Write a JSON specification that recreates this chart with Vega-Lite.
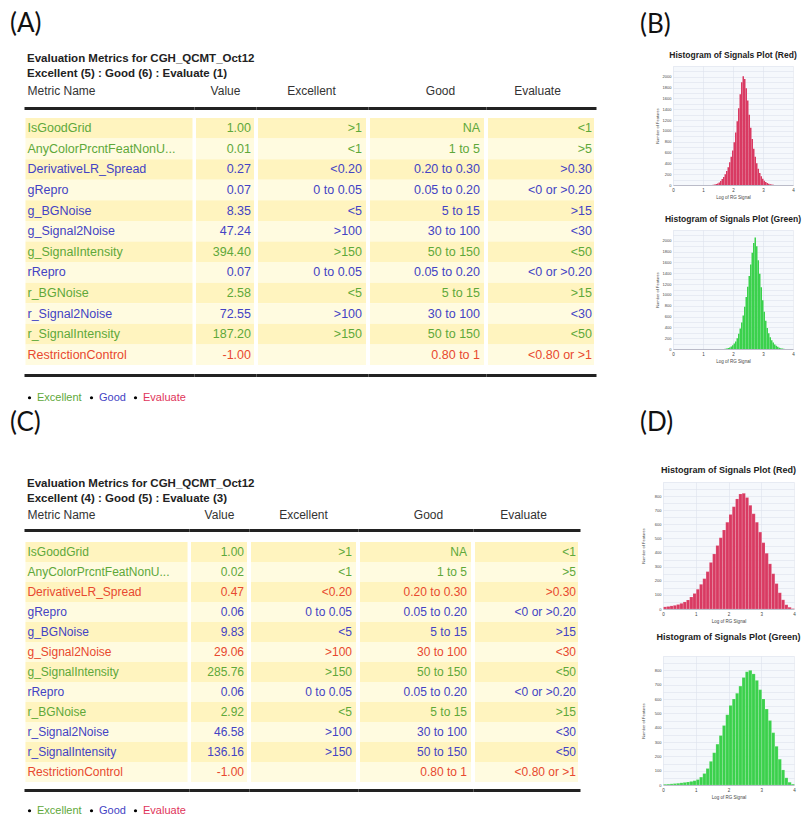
{
  "$schema": "https://vega.github.io/schema/vega-lite/v6.json",
  "background": "white",
  "padding": {"left": 10, "top": 6, "right": 0, "bottom": 0},
  "config": {
    "view": {"stroke": null},
    "font": "Liberation Sans"
  },
  "datasets": {
    "legendItems": [{"s": "Excellent"}, {"s": "Good"}, {"s": "Evaluate"}],
    "tableA": [
      {"row": 1, "name": "IsGoodGrid", "value": "1.00", "exc": ">1", "good": "NA", "eval": "<1", "status": "Excellent"},
      {"row": 2, "name": "AnyColorPrcntFeatNonU...", "value": "0.01", "exc": "<1", "good": "1 to 5", "eval": ">5", "status": "Excellent"},
      {"row": 3, "name": "DerivativeLR_Spread", "value": "0.27", "exc": "<0.20", "good": "0.20 to 0.30", "eval": ">0.30", "status": "Good"},
      {"row": 4, "name": "gRepro", "value": "0.07", "exc": "0 to 0.05", "good": "0.05 to 0.20", "eval": "<0 or >0.20", "status": "Good"},
      {"row": 5, "name": "g_BGNoise", "value": "8.35", "exc": "<5", "good": "5 to 15", "eval": ">15", "status": "Good"},
      {"row": 6, "name": "g_Signal2Noise", "value": "47.24", "exc": ">100", "good": "30 to 100", "eval": "<30", "status": "Good"},
      {"row": 7, "name": "g_SignalIntensity", "value": "394.40", "exc": ">150", "good": "50 to 150", "eval": "<50", "status": "Excellent"},
      {"row": 8, "name": "rRepro", "value": "0.07", "exc": "0 to 0.05", "good": "0.05 to 0.20", "eval": "<0 or >0.20", "status": "Good"},
      {"row": 9, "name": "r_BGNoise", "value": "2.58", "exc": "<5", "good": "5 to 15", "eval": ">15", "status": "Excellent"},
      {"row": 10, "name": "r_Signal2Noise", "value": "72.55", "exc": ">100", "good": "30 to 100", "eval": "<30", "status": "Good"},
      {"row": 11, "name": "r_SignalIntensity", "value": "187.20", "exc": ">150", "good": "50 to 150", "eval": "<50", "status": "Excellent"},
      {"row": 12, "name": "RestrictionControl", "value": "-1.00", "exc": "", "good": "0.80 to 1", "eval": "<0.80 or >1", "status": "Evaluate"}
    ],
    "tableC": [
      {"row": 1, "name": "IsGoodGrid", "value": "1.00", "exc": ">1", "good": "NA", "eval": "<1", "status": "Excellent"},
      {"row": 2, "name": "AnyColorPrcntFeatNonU...", "value": "0.02", "exc": "<1", "good": "1 to 5", "eval": ">5", "status": "Excellent"},
      {"row": 3, "name": "DerivativeLR_Spread", "value": "0.47", "exc": "<0.20", "good": "0.20 to 0.30", "eval": ">0.30", "status": "Evaluate"},
      {"row": 4, "name": "gRepro", "value": "0.06", "exc": "0 to 0.05", "good": "0.05 to 0.20", "eval": "<0 or >0.20", "status": "Good"},
      {"row": 5, "name": "g_BGNoise", "value": "9.83", "exc": "<5", "good": "5 to 15", "eval": ">15", "status": "Good"},
      {"row": 6, "name": "g_Signal2Noise", "value": "29.06", "exc": ">100", "good": "30 to 100", "eval": "<30", "status": "Evaluate"},
      {"row": 7, "name": "g_SignalIntensity", "value": "285.76", "exc": ">150", "good": "50 to 150", "eval": "<50", "status": "Excellent"},
      {"row": 8, "name": "rRepro", "value": "0.06", "exc": "0 to 0.05", "good": "0.05 to 0.20", "eval": "<0 or >0.20", "status": "Good"},
      {"row": 9, "name": "r_BGNoise", "value": "2.92", "exc": "<5", "good": "5 to 15", "eval": ">15", "status": "Excellent"},
      {"row": 10, "name": "r_Signal2Noise", "value": "46.58", "exc": ">100", "good": "30 to 100", "eval": "<30", "status": "Good"},
      {"row": 11, "name": "r_SignalIntensity", "value": "136.16", "exc": ">150", "good": "50 to 150", "eval": "<50", "status": "Good"},
      {"row": 12, "name": "RestrictionControl", "value": "-1.00", "exc": "", "good": "0.80 to 1", "eval": "<0.80 or >1", "status": "Evaluate"}
    ],
    "hBR": [
      {"b0": 1.30, "b1": 1.35, "n": 5}, {"b0": 1.35, "b1": 1.40, "n": 10}, {"b0": 1.40, "b1": 1.45, "n": 18}, {"b0": 1.45, "b1": 1.50, "n": 30},
      {"b0": 1.50, "b1": 1.55, "n": 48}, {"b0": 1.55, "b1": 1.60, "n": 75}, {"b0": 1.60, "b1": 1.65, "n": 110}, {"b0": 1.65, "b1": 1.70, "n": 150},
      {"b0": 1.70, "b1": 1.75, "n": 200}, {"b0": 1.75, "b1": 1.80, "n": 260}, {"b0": 1.80, "b1": 1.85, "n": 330}, {"b0": 1.85, "b1": 1.90, "n": 420},
      {"b0": 1.90, "b1": 1.95, "n": 520}, {"b0": 1.95, "b1": 2.00, "n": 640}, {"b0": 2.00, "b1": 2.05, "n": 790}, {"b0": 2.05, "b1": 2.10, "n": 970},
      {"b0": 2.10, "b1": 2.15, "n": 1180}, {"b0": 2.15, "b1": 2.20, "n": 1420}, {"b0": 2.20, "b1": 2.25, "n": 1680}, {"b0": 2.25, "b1": 2.30, "n": 1900},
      {"b0": 2.30, "b1": 2.35, "n": 2010}, {"b0": 2.35, "b1": 2.40, "n": 1960}, {"b0": 2.40, "b1": 2.45, "n": 1790}, {"b0": 2.45, "b1": 2.50, "n": 1560},
      {"b0": 2.50, "b1": 2.55, "n": 1300}, {"b0": 2.55, "b1": 2.60, "n": 1060}, {"b0": 2.60, "b1": 2.65, "n": 850}, {"b0": 2.65, "b1": 2.70, "n": 670},
      {"b0": 2.70, "b1": 2.75, "n": 520}, {"b0": 2.75, "b1": 2.80, "n": 400}, {"b0": 2.80, "b1": 2.85, "n": 300}, {"b0": 2.85, "b1": 2.90, "n": 220},
      {"b0": 2.90, "b1": 2.95, "n": 160}, {"b0": 2.95, "b1": 3.00, "n": 115}, {"b0": 3.00, "b1": 3.05, "n": 80}, {"b0": 3.05, "b1": 3.10, "n": 55},
      {"b0": 3.10, "b1": 3.15, "n": 38}, {"b0": 3.15, "b1": 3.20, "n": 25}, {"b0": 3.20, "b1": 3.25, "n": 15}, {"b0": 3.25, "b1": 3.30, "n": 8},
      {"b0": 3.30, "b1": 3.35, "n": 4}
    ],
    "hBG": [
      {"b0": 1.70, "b1": 1.75, "n": 5}, {"b0": 1.75, "b1": 1.80, "n": 10}, {"b0": 1.80, "b1": 1.85, "n": 18}, {"b0": 1.85, "b1": 1.90, "n": 30},
      {"b0": 1.90, "b1": 1.95, "n": 48}, {"b0": 1.95, "b1": 2.00, "n": 70}, {"b0": 2.00, "b1": 2.05, "n": 100}, {"b0": 2.05, "b1": 2.10, "n": 140},
      {"b0": 2.10, "b1": 2.15, "n": 200}, {"b0": 2.15, "b1": 2.20, "n": 280}, {"b0": 2.20, "b1": 2.25, "n": 380}, {"b0": 2.25, "b1": 2.30, "n": 490},
      {"b0": 2.30, "b1": 2.35, "n": 620}, {"b0": 2.35, "b1": 2.40, "n": 780}, {"b0": 2.40, "b1": 2.45, "n": 960}, {"b0": 2.45, "b1": 2.50, "n": 1150},
      {"b0": 2.50, "b1": 2.55, "n": 1350}, {"b0": 2.55, "b1": 2.60, "n": 1560}, {"b0": 2.60, "b1": 2.65, "n": 1780}, {"b0": 2.65, "b1": 2.70, "n": 1960},
      {"b0": 2.70, "b1": 2.75, "n": 2060}, {"b0": 2.75, "b1": 2.80, "n": 1900}, {"b0": 2.80, "b1": 2.85, "n": 1640}, {"b0": 2.85, "b1": 2.90, "n": 1390},
      {"b0": 2.90, "b1": 2.95, "n": 1140}, {"b0": 2.95, "b1": 3.00, "n": 900}, {"b0": 3.00, "b1": 3.05, "n": 690}, {"b0": 3.05, "b1": 3.10, "n": 520},
      {"b0": 3.10, "b1": 3.15, "n": 390}, {"b0": 3.15, "b1": 3.20, "n": 290}, {"b0": 3.20, "b1": 3.25, "n": 215}, {"b0": 3.25, "b1": 3.30, "n": 160},
      {"b0": 3.30, "b1": 3.35, "n": 120}, {"b0": 3.35, "b1": 3.40, "n": 85}, {"b0": 3.40, "b1": 3.45, "n": 60}, {"b0": 3.45, "b1": 3.50, "n": 40},
      {"b0": 3.50, "b1": 3.55, "n": 25}, {"b0": 3.55, "b1": 3.60, "n": 15}, {"b0": 3.60, "b1": 3.65, "n": 8}, {"b0": 3.65, "b1": 3.70, "n": 4}
    ],
    "hDR": [
      {"b0": 0.0, "b1": 0.1, "n": 15}, {"b0": 0.1, "b1": 0.2, "n": 18}, {"b0": 0.2, "b1": 0.3, "n": 22}, {"b0": 0.3, "b1": 0.4, "n": 26},
      {"b0": 0.4, "b1": 0.5, "n": 32}, {"b0": 0.5, "b1": 0.6, "n": 40}, {"b0": 0.6, "b1": 0.7, "n": 50}, {"b0": 0.7, "b1": 0.8, "n": 64},
      {"b0": 0.8, "b1": 0.9, "n": 85}, {"b0": 0.9, "b1": 1.0, "n": 110}, {"b0": 1.0, "b1": 1.1, "n": 140}, {"b0": 1.1, "b1": 1.2, "n": 175},
      {"b0": 1.2, "b1": 1.3, "n": 215}, {"b0": 1.3, "b1": 1.4, "n": 265}, {"b0": 1.4, "b1": 1.5, "n": 330}, {"b0": 1.5, "b1": 1.6, "n": 390},
      {"b0": 1.6, "b1": 1.7, "n": 450}, {"b0": 1.7, "b1": 1.8, "n": 505}, {"b0": 1.8, "b1": 1.9, "n": 560}, {"b0": 1.9, "b1": 2.0, "n": 615},
      {"b0": 2.0, "b1": 2.1, "n": 670}, {"b0": 2.1, "b1": 2.2, "n": 725}, {"b0": 2.2, "b1": 2.3, "n": 780}, {"b0": 2.3, "b1": 2.4, "n": 815},
      {"b0": 2.4, "b1": 2.5, "n": 820}, {"b0": 2.5, "b1": 2.6, "n": 790}, {"b0": 2.6, "b1": 2.7, "n": 735}, {"b0": 2.7, "b1": 2.8, "n": 675},
      {"b0": 2.8, "b1": 2.9, "n": 615}, {"b0": 2.9, "b1": 3.0, "n": 545}, {"b0": 3.0, "b1": 3.1, "n": 470}, {"b0": 3.1, "b1": 3.2, "n": 395},
      {"b0": 3.2, "b1": 3.3, "n": 320}, {"b0": 3.3, "b1": 3.4, "n": 250}, {"b0": 3.4, "b1": 3.5, "n": 180}, {"b0": 3.5, "b1": 3.6, "n": 115},
      {"b0": 3.6, "b1": 3.7, "n": 65}, {"b0": 3.7, "b1": 3.8, "n": 30}, {"b0": 3.8, "b1": 3.9, "n": 12}, {"b0": 3.9, "b1": 4.0, "n": 3}
    ],
    "hDG": [
      {"b0": 0.0, "b1": 0.1, "n": 5}, {"b0": 0.1, "b1": 0.2, "n": 6}, {"b0": 0.2, "b1": 0.3, "n": 8}, {"b0": 0.3, "b1": 0.4, "n": 10},
      {"b0": 0.4, "b1": 0.5, "n": 12}, {"b0": 0.5, "b1": 0.6, "n": 15}, {"b0": 0.6, "b1": 0.7, "n": 18}, {"b0": 0.7, "b1": 0.8, "n": 21},
      {"b0": 0.8, "b1": 0.9, "n": 25}, {"b0": 0.9, "b1": 1.0, "n": 30}, {"b0": 1.0, "b1": 1.1, "n": 38}, {"b0": 1.1, "b1": 1.2, "n": 55},
      {"b0": 1.2, "b1": 1.3, "n": 80}, {"b0": 1.3, "b1": 1.4, "n": 115}, {"b0": 1.4, "b1": 1.5, "n": 165}, {"b0": 1.5, "b1": 1.6, "n": 225},
      {"b0": 1.6, "b1": 1.7, "n": 285}, {"b0": 1.7, "b1": 1.8, "n": 345}, {"b0": 1.8, "b1": 1.9, "n": 415}, {"b0": 1.9, "b1": 2.0, "n": 490},
      {"b0": 2.0, "b1": 2.1, "n": 555}, {"b0": 2.1, "b1": 2.2, "n": 600}, {"b0": 2.2, "b1": 2.3, "n": 640}, {"b0": 2.3, "b1": 2.4, "n": 690},
      {"b0": 2.4, "b1": 2.5, "n": 750}, {"b0": 2.5, "b1": 2.6, "n": 790}, {"b0": 2.6, "b1": 2.7, "n": 800}, {"b0": 2.7, "b1": 2.8, "n": 775},
      {"b0": 2.8, "b1": 2.9, "n": 730}, {"b0": 2.9, "b1": 3.0, "n": 665}, {"b0": 3.0, "b1": 3.1, "n": 600}, {"b0": 3.1, "b1": 3.2, "n": 530},
      {"b0": 3.2, "b1": 3.3, "n": 450}, {"b0": 3.3, "b1": 3.4, "n": 365}, {"b0": 3.4, "b1": 3.5, "n": 270}, {"b0": 3.5, "b1": 3.6, "n": 180},
      {"b0": 3.6, "b1": 3.7, "n": 105}, {"b0": 3.7, "b1": 3.8, "n": 50}, {"b0": 3.8, "b1": 3.9, "n": 20}, {"b0": 3.9, "b1": 4.0, "n": 6}
    ]
  },
  "spacing": 44,
  "hconcat": [
    {
      "spacing": 4,
      "vconcat": [
        {"width": 1, "height": 1, "data": {"values": [{"k": 1}]}, "mark": {"type": "point", "size": 0, "opacity": 0}, "encoding": {}},
        {
          "spacing": 7,
          "vconcat": [
            {
              "title": {"text": "(A)", "anchor": "start", "dx": -14, "font": "Lato", "fontSize": 26, "fontWeight": "normal", "color": "#111", "offset": 16},
              "vconcat": [
                {
                  "data": {"name": "tableA"},
                  "title": {"text": "Evaluation Metrics for CGH_QCMT_Oct12", "subtitle": "Excellent (5) : Good (6) : Evaluate (1)", "anchor": "start", "dx": 3, "fontSize": 11.5, "fontWeight": "bold", "color": "#222", "subtitleFontSize": 11.5, "subtitleFontWeight": "bold", "subtitleColor": "#222", "subtitlePadding": 3, "offset": 5},
                  "spacing": 0,
                  "resolve": {"scale": {"shape": "independent"}, "legend": {"shape": "independent"}},
                  "hconcat": [
                    {
                      "width": 170, "height": 247,
                      "layer": [
                        {"mark": {"type": "rect"}, "encoding": {
                          "x": {"datum": "c", "type": "nominal", "scale": {"paddingInner": 0, "paddingOuter": 0.009}, "axis": {"orient": "top", "title": "Metric Name", "labels": false, "ticks": false, "domainWidth": 3, "domainColor": "#222", "offset": 10, "titlePadding": 11, "titleFontSize": 12, "titleFontWeight": "normal", "titleColor": "#333", "titleAlign": "left", "titleX": 3}},
                          "y": {"field": "row", "type": "ordinal", "scale": {"paddingInner": 0, "paddingOuter": 0}, "axis": null},
                          "fill": {"condition": {"test": "datum.row % 2 == 1", "value": "#fff4bf"}, "value": "#fffbe0"}}},
                        {"mark": {"type": "text", "align": "left", "dx": 2, "fontSize": 12.5}, "encoding": {
                          "x": {"datum": "c", "type": "nominal", "bandPosition": 0, "axis": {"orient": "bottom", "title": null, "labels": false, "ticks": false, "domainWidth": 3, "domainColor": "#222", "offset": 10}},
                          "y": {"field": "row", "type": "ordinal", "axis": null},
                          "text": {"field": "name"},
                          "color": {"field": "status", "type": "nominal", "scale": {"domain": ["Excellent", "Good", "Evaluate"], "range": ["#5ea83a", "#4343c4", "#e8492f"]}, "legend": null}}},
                        {"data": {"name": "legendItems"}, "mark": {"type": "point", "filled": true, "color": "#000", "opacity": 0}, "encoding": {
                          "shape": {"field": "s", "type": "nominal", "sort": null, "scale": {"domain": ["Excellent", "Good", "Evaluate"], "range": ["circle", "circle", "circle"]},
                            "legend": {"title": null, "orient": "bottom", "direction": "horizontal", "offset": 17, "padding": 0, "symbolSize": 10, "symbolOpacity": 1, "symbolFillColor": "#000", "symbolStrokeWidth": 0, "labelFontSize": 11, "labelOffset": 2, "columnPadding": 4, "labelColor": {"expr": "datum.label === 'Excellent' ? '#5ea83a' : (datum.label === 'Good' ? '#4343c4' : '#e0345a')"}}}}}
                      ],
                      "resolve": {"axis": {"x": "independent"}}
                    },
                    {
                      "width": 62, "height": 247,
                      "layer": [
                        {"mark": {"type": "rect"}, "encoding": {
                          "x": {"datum": "c", "type": "nominal", "scale": {"paddingInner": 0, "paddingOuter": 0.0345}, "axis": {"orient": "top", "title": "Value", "labels": false, "ticks": false, "domainWidth": 3, "domainColor": "#222", "offset": 10, "titlePadding": 11, "titleFontSize": 12, "titleFontWeight": "normal", "titleColor": "#333", "titleAlign": "center", "titleX": 31}},
                          "y": {"field": "row", "type": "ordinal", "scale": {"paddingInner": 0, "paddingOuter": 0}, "axis": null},
                          "fill": {"condition": {"test": "datum.row % 2 == 1", "value": "#fff4bf"}, "value": "#fffbe0"}}},
                        {"mark": {"type": "text", "align": "right", "dx": -3, "fontSize": 12.5}, "encoding": {
                          "x": {"datum": "c", "type": "nominal", "bandPosition": 1, "axis": {"orient": "bottom", "title": null, "labels": false, "ticks": false, "domainWidth": 3, "domainColor": "#222", "offset": 10}},
                          "y": {"field": "row", "type": "ordinal", "axis": null},
                          "text": {"field": "value"},
                          "color": {"field": "status", "type": "nominal", "scale": {"domain": ["Excellent", "Good", "Evaluate"], "range": ["#5ea83a", "#4343c4", "#e8492f"]}, "legend": null}}}
                      ],
                      "resolve": {"axis": {"x": "independent"}}
                    },
                    {
                      "width": 112, "height": 247,
                      "layer": [
                        {"mark": {"type": "rect"}, "encoding": {
                          "x": {"datum": "c", "type": "nominal", "scale": {"paddingInner": 0, "paddingOuter": 0.0185}, "axis": {"orient": "top", "title": "Excellent", "labels": false, "ticks": false, "domainWidth": 3, "domainColor": "#222", "offset": 10, "titlePadding": 11, "titleFontSize": 12, "titleFontWeight": "normal", "titleColor": "#333", "titleAlign": "center", "titleX": 55}},
                          "y": {"field": "row", "type": "ordinal", "scale": {"paddingInner": 0, "paddingOuter": 0}, "axis": null},
                          "fill": {"condition": {"test": "datum.row % 2 == 1", "value": "#fff4bf"}, "value": "#fffbe0"}}},
                        {"mark": {"type": "text", "align": "right", "dx": -4, "fontSize": 12.5}, "encoding": {
                          "x": {"datum": "c", "type": "nominal", "bandPosition": 1, "axis": {"orient": "bottom", "title": null, "labels": false, "ticks": false, "domainWidth": 3, "domainColor": "#222", "offset": 10}},
                          "y": {"field": "row", "type": "ordinal", "axis": null},
                          "text": {"field": "exc"},
                          "color": {"field": "status", "type": "nominal", "scale": {"domain": ["Excellent", "Good", "Evaluate"], "range": ["#5ea83a", "#4343c4", "#e8492f"]}, "legend": null}}}
                      ],
                      "resolve": {"axis": {"x": "independent"}}
                    },
                    {
                      "width": 118, "height": 247,
                      "layer": [
                        {"mark": {"type": "rect"}, "encoding": {
                          "x": {"datum": "c", "type": "nominal", "scale": {"paddingInner": 0, "paddingOuter": 0.0175}, "axis": {"orient": "top", "title": "Good", "labels": false, "ticks": false, "domainWidth": 3, "domainColor": "#222", "offset": 10, "titlePadding": 11, "titleFontSize": 12, "titleFontWeight": "normal", "titleColor": "#333", "titleAlign": "center", "titleX": 72}},
                          "y": {"field": "row", "type": "ordinal", "scale": {"paddingInner": 0, "paddingOuter": 0}, "axis": null},
                          "fill": {"condition": {"test": "datum.row % 2 == 1", "value": "#fff4bf"}, "value": "#fffbe0"}}},
                        {"mark": {"type": "text", "align": "right", "dx": -4, "fontSize": 12.5}, "encoding": {
                          "x": {"datum": "c", "type": "nominal", "bandPosition": 1, "axis": {"orient": "bottom", "title": null, "labels": false, "ticks": false, "domainWidth": 3, "domainColor": "#222", "offset": 10}},
                          "y": {"field": "row", "type": "ordinal", "axis": null},
                          "text": {"field": "good"},
                          "color": {"field": "status", "type": "nominal", "scale": {"domain": ["Excellent", "Good", "Evaluate"], "range": ["#5ea83a", "#4343c4", "#e8492f"]}, "legend": null}}}
                      ],
                      "resolve": {"axis": {"x": "independent"}}
                    },
                    {
                      "width": 110, "height": 247,
                      "layer": [
                        {"mark": {"type": "rect"}, "encoding": {
                          "x": {"datum": "c", "type": "nominal", "scale": {"paddingInner": 0, "paddingOuter": 0.0189}, "axis": {"orient": "top", "title": "Evaluate", "labels": false, "ticks": false, "domainWidth": 3, "domainColor": "#222", "offset": 10, "titlePadding": 11, "titleFontSize": 12, "titleFontWeight": "normal", "titleColor": "#333", "titleAlign": "center", "titleX": 51}},
                          "y": {"field": "row", "type": "ordinal", "scale": {"paddingInner": 0, "paddingOuter": 0}, "axis": null},
                          "fill": {"condition": {"test": "datum.row % 2 == 1", "value": "#fff4bf"}, "value": "#fffbe0"}}},
                        {"mark": {"type": "text", "align": "right", "dx": -2, "fontSize": 12.5}, "encoding": {
                          "x": {"datum": "c", "type": "nominal", "bandPosition": 1, "axis": {"orient": "bottom", "title": null, "labels": false, "ticks": false, "domainWidth": 3, "domainColor": "#222", "offset": 10}},
                          "y": {"field": "row", "type": "ordinal", "axis": null},
                          "text": {"field": "eval"},
                          "color": {"field": "status", "type": "nominal", "scale": {"domain": ["Excellent", "Good", "Evaluate"], "range": ["#5ea83a", "#4343c4", "#e8492f"]}, "legend": null}}}
                      ],
                      "resolve": {"axis": {"x": "independent"}}
                    }
                  ]
                }
              ]
            },
            {
              "title": {"text": "(C)", "anchor": "start", "dx": -14, "font": "Lato", "fontSize": 26, "fontWeight": "normal", "color": "#111", "offset": 42},
              "vconcat": [
                {
                  "data": {"name": "tableC"},
                  "title": {"text": "Evaluation Metrics for CGH_QCMT_Oct12", "subtitle": "Excellent (4) : Good (5) : Evaluate (3)", "anchor": "start", "dx": 3, "fontSize": 11.5, "fontWeight": "bold", "color": "#222", "subtitleFontSize": 11.5, "subtitleFontWeight": "bold", "subtitleColor": "#222", "subtitlePadding": 3, "offset": 4},
                  "spacing": 0,
                  "resolve": {"scale": {"shape": "independent"}, "legend": {"shape": "independent"}},
                  "hconcat": [
                    {
                      "width": 165, "height": 240,
                      "layer": [
                        {"mark": {"type": "rect"}, "encoding": {
                          "x": {"datum": "c", "type": "nominal", "scale": {"paddingInner": 0, "paddingOuter": 0.009}, "axis": {"orient": "top", "title": "Metric Name", "labels": false, "ticks": false, "domainWidth": 3, "domainColor": "#222", "offset": 12, "titlePadding": 9, "titleFontSize": 12, "titleFontWeight": "normal", "titleColor": "#333", "titleAlign": "left", "titleX": 3}},
                          "y": {"field": "row", "type": "ordinal", "scale": {"paddingInner": 0, "paddingOuter": 0}, "axis": null},
                          "fill": {"condition": {"test": "datum.row % 2 == 1", "value": "#fff4bf"}, "value": "#fffbe0"}}},
                        {"mark": {"type": "text", "align": "left", "dx": 2, "fontSize": 12}, "encoding": {
                          "x": {"datum": "c", "type": "nominal", "bandPosition": 0, "axis": {"orient": "bottom", "title": null, "labels": false, "ticks": false, "domainWidth": 3, "domainColor": "#222", "offset": 8}},
                          "y": {"field": "row", "type": "ordinal", "axis": null},
                          "text": {"field": "name"},
                          "color": {"field": "status", "type": "nominal", "scale": {"domain": ["Excellent", "Good", "Evaluate"], "range": ["#5ea83a", "#4343c4", "#e8492f"]}, "legend": null}}},
                        {"data": {"name": "legendItems"}, "mark": {"type": "point", "filled": true, "color": "#000", "opacity": 0}, "encoding": {
                          "shape": {"field": "s", "type": "nominal", "sort": null, "scale": {"domain": ["Excellent", "Good", "Evaluate"], "range": ["circle", "circle", "circle"]},
                            "legend": {"title": null, "orient": "bottom", "direction": "horizontal", "offset": 15, "padding": 0, "symbolSize": 10, "symbolOpacity": 1, "symbolFillColor": "#000", "symbolStrokeWidth": 0, "labelFontSize": 11, "labelOffset": 2, "columnPadding": 4, "labelColor": {"expr": "datum.label === 'Excellent' ? '#5ea83a' : (datum.label === 'Good' ? '#4343c4' : '#e0345a')"}}}}}
                      ],
                      "resolve": {"axis": {"x": "independent"}}
                    },
                    {
                      "width": 60, "height": 240,
                      "layer": [
                        {"mark": {"type": "rect"}, "encoding": {
                          "x": {"datum": "c", "type": "nominal", "scale": {"paddingInner": 0, "paddingOuter": 0.0357}, "axis": {"orient": "top", "title": "Value", "labels": false, "ticks": false, "domainWidth": 3, "domainColor": "#222", "offset": 12, "titlePadding": 9, "titleFontSize": 12, "titleFontWeight": "normal", "titleColor": "#333", "titleAlign": "center", "titleX": 30}},
                          "y": {"field": "row", "type": "ordinal", "scale": {"paddingInner": 0, "paddingOuter": 0}, "axis": null},
                          "fill": {"condition": {"test": "datum.row % 2 == 1", "value": "#fff4bf"}, "value": "#fffbe0"}}},
                        {"mark": {"type": "text", "align": "right", "dx": -3, "fontSize": 12}, "encoding": {
                          "x": {"datum": "c", "type": "nominal", "bandPosition": 1, "axis": {"orient": "bottom", "title": null, "labels": false, "ticks": false, "domainWidth": 3, "domainColor": "#222", "offset": 8}},
                          "y": {"field": "row", "type": "ordinal", "axis": null},
                          "text": {"field": "value"},
                          "color": {"field": "status", "type": "nominal", "scale": {"domain": ["Excellent", "Good", "Evaluate"], "range": ["#5ea83a", "#4343c4", "#e8492f"]}, "legend": null}}}
                      ],
                      "resolve": {"axis": {"x": "independent"}}
                    },
                    {
                      "width": 109, "height": 240,
                      "layer": [
                        {"mark": {"type": "rect"}, "encoding": {
                          "x": {"datum": "c", "type": "nominal", "scale": {"paddingInner": 0, "paddingOuter": 0.019}, "axis": {"orient": "top", "title": "Excellent", "labels": false, "ticks": false, "domainWidth": 3, "domainColor": "#222", "offset": 12, "titlePadding": 9, "titleFontSize": 12, "titleFontWeight": "normal", "titleColor": "#333", "titleAlign": "center", "titleX": 54}},
                          "y": {"field": "row", "type": "ordinal", "scale": {"paddingInner": 0, "paddingOuter": 0}, "axis": null},
                          "fill": {"condition": {"test": "datum.row % 2 == 1", "value": "#fff4bf"}, "value": "#fffbe0"}}},
                        {"mark": {"type": "text", "align": "right", "dx": -4, "fontSize": 12}, "encoding": {
                          "x": {"datum": "c", "type": "nominal", "bandPosition": 1, "axis": {"orient": "bottom", "title": null, "labels": false, "ticks": false, "domainWidth": 3, "domainColor": "#222", "offset": 8}},
                          "y": {"field": "row", "type": "ordinal", "axis": null},
                          "text": {"field": "exc"},
                          "color": {"field": "status", "type": "nominal", "scale": {"domain": ["Excellent", "Good", "Evaluate"], "range": ["#5ea83a", "#4343c4", "#e8492f"]}, "legend": null}}}
                      ],
                      "resolve": {"axis": {"x": "independent"}}
                    },
                    {
                      "width": 115, "height": 240,
                      "layer": [
                        {"mark": {"type": "rect"}, "encoding": {
                          "x": {"datum": "c", "type": "nominal", "scale": {"paddingInner": 0, "paddingOuter": 0.018}, "axis": {"orient": "top", "title": "Good", "labels": false, "ticks": false, "domainWidth": 3, "domainColor": "#222", "offset": 12, "titlePadding": 9, "titleFontSize": 12, "titleFontWeight": "normal", "titleColor": "#333", "titleAlign": "center", "titleX": 70}},
                          "y": {"field": "row", "type": "ordinal", "scale": {"paddingInner": 0, "paddingOuter": 0}, "axis": null},
                          "fill": {"condition": {"test": "datum.row % 2 == 1", "value": "#fff4bf"}, "value": "#fffbe0"}}},
                        {"mark": {"type": "text", "align": "right", "dx": -4, "fontSize": 12}, "encoding": {
                          "x": {"datum": "c", "type": "nominal", "bandPosition": 1, "axis": {"orient": "bottom", "title": null, "labels": false, "ticks": false, "domainWidth": 3, "domainColor": "#222", "offset": 8}},
                          "y": {"field": "row", "type": "ordinal", "axis": null},
                          "text": {"field": "good"},
                          "color": {"field": "status", "type": "nominal", "scale": {"domain": ["Excellent", "Good", "Evaluate"], "range": ["#5ea83a", "#4343c4", "#e8492f"]}, "legend": null}}}
                      ],
                      "resolve": {"axis": {"x": "independent"}}
                    },
                    {
                      "width": 107, "height": 240,
                      "layer": [
                        {"mark": {"type": "rect"}, "encoding": {
                          "x": {"datum": "c", "type": "nominal", "scale": {"paddingInner": 0, "paddingOuter": 0.0194}, "axis": {"orient": "top", "title": "Evaluate", "labels": false, "ticks": false, "domainWidth": 3, "domainColor": "#222", "offset": 12, "titlePadding": 9, "titleFontSize": 12, "titleFontWeight": "normal", "titleColor": "#333", "titleAlign": "center", "titleX": 50}},
                          "y": {"field": "row", "type": "ordinal", "scale": {"paddingInner": 0, "paddingOuter": 0}, "axis": null},
                          "fill": {"condition": {"test": "datum.row % 2 == 1", "value": "#fff4bf"}, "value": "#fffbe0"}}},
                        {"mark": {"type": "text", "align": "right", "dx": -2, "fontSize": 12}, "encoding": {
                          "x": {"datum": "c", "type": "nominal", "bandPosition": 1, "axis": {"orient": "bottom", "title": null, "labels": false, "ticks": false, "domainWidth": 3, "domainColor": "#222", "offset": 8}},
                          "y": {"field": "row", "type": "ordinal", "axis": null},
                          "text": {"field": "eval"},
                          "color": {"field": "status", "type": "nominal", "scale": {"domain": ["Excellent", "Good", "Evaluate"], "range": ["#5ea83a", "#4343c4", "#e8492f"]}, "legend": null}}}
                      ],
                      "resolve": {"axis": {"x": "independent"}}
                    }
                  ]
                }
              ]
            }
          ]
        }
      ]
    },
    {
      "spacing": 4,
      "vconcat": [
        {"width": 1, "height": 1, "data": {"values": [{"k": 1}]}, "mark": {"type": "point", "size": 0, "opacity": 0}, "encoding": {}},
        {
          "title": {"text": "(B)", "anchor": "start", "font": "Lato", "fontSize": 26, "fontWeight": "normal", "color": "#111", "offset": 13},
          "spacing": 0,
          "hconcat": [
            {"width": 15, "height": 1, "data": {"values": [{"k": 1}]}, "mark": {"type": "point", "size": 0, "opacity": 0}, "encoding": {}},
            {
              "spacing": 15,
              "vconcat": [
                {
                  "data": {"name": "hBR"},
                  "width": 120, "height": 119,
                  "title": {"text": "Histogram of Signals Plot (Red)", "fontSize": 8.5, "fontWeight": "bold", "color": "#222", "anchor": "middle", "offset": 5},
                  "view": {"fill": "#f5f8fc", "stroke": null},
                  "mark": {"type": "bar", "color": "#d93a62", "binSpacing": 0},
                  "encoding": {
                    "x": {"field": "b0", "type": "quantitative", "bin": "binned", "scale": {"domain": [0, 4], "nice": false},
                      "axis": {"values": [0, 0.25, 0.5, 0.75, 1, 1.25, 1.5, 1.75, 2, 2.25, 2.5, 2.75, 3, 3.25, 3.5, 3.75, 4], "labelExpr": "datum.value % 1 == 0 ? datum.label : ''", "format": "d", "grid": true, "gridColor": "#dde3ec", "gridWidth": 0.6, "ticks": false, "labelFontSize": 4.5, "labelColor": "#444", "labelPadding": 2, "labelFlush": false, "labelOverlap": false, "domainColor": "#99a", "domainWidth": 0.6, "title": "Log of RG Signal", "titleFontSize": 4.5, "titleFontWeight": "normal", "titleColor": "#444", "titlePadding": 3}},
                    "x2": {"field": "b1"},
                    "y": {"field": "n", "type": "quantitative", "scale": {"domain": [0, 2200], "nice": false},
                      "axis": {"values": [0, 100, 200, 300, 400, 500, 600, 700, 800, 900, 1000, 1100, 1200, 1300, 1400, 1500, 1600, 1700, 1800, 1900, 2000, 2100, 2200], "labelExpr": "datum.value % 200 == 0 && datum.value < 2200 ? datum.label : ''", "format": "d", "grid": true, "gridColor": "#dde3ec", "gridWidth": 0.6, "ticks": false, "labelFontSize": 4, "labelColor": "#444", "labelPadding": 2, "labelFlush": false, "labelOverlap": false, "domain": false, "title": "Number of Features", "titleFontSize": 4, "titleFontWeight": "normal", "titleColor": "#444", "titlePadding": 3}}
                  }
                },
                {
                  "data": {"name": "hBG"},
                  "width": 120, "height": 119,
                  "title": {"text": "Histogram of Signals Plot (Green)", "fontSize": 8.5, "fontWeight": "bold", "color": "#222", "anchor": "middle", "offset": 5},
                  "view": {"fill": "#f5f8fc", "stroke": null},
                  "mark": {"type": "bar", "color": "#3bd14c", "binSpacing": 0},
                  "encoding": {
                    "x": {"field": "b0", "type": "quantitative", "bin": "binned", "scale": {"domain": [0, 4], "nice": false},
                      "axis": {"values": [0, 0.25, 0.5, 0.75, 1, 1.25, 1.5, 1.75, 2, 2.25, 2.5, 2.75, 3, 3.25, 3.5, 3.75, 4], "labelExpr": "datum.value % 1 == 0 ? datum.label : ''", "format": "d", "grid": true, "gridColor": "#dde3ec", "gridWidth": 0.6, "ticks": false, "labelFontSize": 4.5, "labelColor": "#444", "labelPadding": 2, "labelFlush": false, "labelOverlap": false, "domainColor": "#99a", "domainWidth": 0.6, "title": "Log of RG Signal", "titleFontSize": 4.5, "titleFontWeight": "normal", "titleColor": "#444", "titlePadding": 3}},
                    "x2": {"field": "b1"},
                    "y": {"field": "n", "type": "quantitative", "scale": {"domain": [0, 2200], "nice": false},
                      "axis": {"values": [0, 100, 200, 300, 400, 500, 600, 700, 800, 900, 1000, 1100, 1200, 1300, 1400, 1500, 1600, 1700, 1800, 1900, 2000, 2100, 2200], "labelExpr": "datum.value % 200 == 0 && datum.value < 2200 ? datum.label : ''", "format": "d", "grid": true, "gridColor": "#dde3ec", "gridWidth": 0.6, "ticks": false, "labelFontSize": 4, "labelColor": "#444", "labelPadding": 2, "labelFlush": false, "labelOverlap": false, "domain": false, "title": "Number of Features", "titleFontSize": 4, "titleFontWeight": "normal", "titleColor": "#444", "titlePadding": 3}}
                  }
                }
              ]
            }
          ]
        },
        {"width": 1, "height": 39, "data": {"values": [{"k": 1}]}, "mark": {"type": "point", "size": 0, "opacity": 0}, "encoding": {}},
        {
          "title": {"text": "(D)", "anchor": "start", "font": "Lato", "fontSize": 26, "fontWeight": "normal", "color": "#111", "offset": 30},
          "spacing": 0,
          "hconcat": [
            {"width": 1, "height": 1, "data": {"values": [{"k": 1}]}, "mark": {"type": "point", "size": 0, "opacity": 0}, "encoding": {}},
            {
              "spacing": 10,
              "vconcat": [
                {
                  "data": {"name": "hDR"},
                  "width": 131, "height": 127,
                  "title": {"text": "Histogram of Signals Plot (Red)", "fontSize": 9, "fontWeight": "bold", "color": "#222", "anchor": "middle", "offset": 5},
                  "view": {"fill": "#f5f8fc", "stroke": null},
                  "mark": {"type": "bar", "color": "#d93a62", "binSpacing": 0, "stroke": "#ffffff", "strokeWidth": 0.4, "strokeOpacity": 0.35},
                  "encoding": {
                    "x": {"field": "b0", "type": "quantitative", "bin": "binned", "scale": {"domain": [0, 4], "nice": false},
                      "axis": {"values": [0, 0.25, 0.5, 0.75, 1, 1.25, 1.5, 1.75, 2, 2.25, 2.5, 2.75, 3, 3.25, 3.5, 3.75, 4], "labelExpr": "datum.value % 1 == 0 ? datum.label : ''", "format": "d", "grid": true, "gridColor": "#dde3ec", "gridWidth": 0.6, "ticks": false, "labelFontSize": 4.5, "labelColor": "#444", "labelPadding": 2, "labelFlush": false, "labelOverlap": false, "domainColor": "#99a", "domainWidth": 0.6, "title": "Log of RG Signal", "titleFontSize": 4.5, "titleFontWeight": "normal", "titleColor": "#444", "titlePadding": 3}},
                    "x2": {"field": "b1"},
                    "y": {"field": "n", "type": "quantitative", "scale": {"domain": [0, 900], "nice": false},
                      "axis": {"values": [0, 50, 100, 150, 200, 250, 300, 350, 400, 450, 500, 550, 600, 650, 700, 750, 800, 850, 900], "labelExpr": "datum.value % 100 == 0 && datum.value < 900 ? datum.label : ''", "format": "d", "grid": true, "gridColor": "#dde3ec", "gridWidth": 0.6, "ticks": false, "labelFontSize": 4, "labelColor": "#444", "labelPadding": 2, "labelFlush": false, "labelOverlap": false, "domain": false, "title": "Number of Features", "titleFontSize": 4, "titleFontWeight": "normal", "titleColor": "#444", "titlePadding": 9}}
                  }
                },
                {
                  "data": {"name": "hDG"},
                  "width": 131, "height": 129,
                  "title": {"text": "Histogram of Signals Plot (Green)", "fontSize": 9, "fontWeight": "bold", "color": "#222", "anchor": "middle", "offset": 12},
                  "view": {"fill": "#f5f8fc", "stroke": null},
                  "mark": {"type": "bar", "color": "#3bd14c", "binSpacing": 0, "stroke": "#ffffff", "strokeWidth": 0.4, "strokeOpacity": 0.35},
                  "encoding": {
                    "x": {"field": "b0", "type": "quantitative", "bin": "binned", "scale": {"domain": [0, 4], "nice": false},
                      "axis": {"values": [0, 0.25, 0.5, 0.75, 1, 1.25, 1.5, 1.75, 2, 2.25, 2.5, 2.75, 3, 3.25, 3.5, 3.75, 4], "labelExpr": "datum.value % 1 == 0 ? datum.label : ''", "format": "d", "grid": true, "gridColor": "#dde3ec", "gridWidth": 0.6, "ticks": false, "labelFontSize": 4.5, "labelColor": "#444", "labelPadding": 2, "labelFlush": false, "labelOverlap": false, "domainColor": "#99a", "domainWidth": 0.6, "title": "Log of RG Signal", "titleFontSize": 4.5, "titleFontWeight": "normal", "titleColor": "#444", "titlePadding": 3}},
                    "x2": {"field": "b1"},
                    "y": {"field": "n", "type": "quantitative", "scale": {"domain": [0, 900], "nice": false},
                      "axis": {"values": [0, 50, 100, 150, 200, 250, 300, 350, 400, 450, 500, 550, 600, 650, 700, 750, 800, 850, 900], "labelExpr": "datum.value % 100 == 0 && datum.value < 900 ? datum.label : ''", "format": "d", "grid": true, "gridColor": "#dde3ec", "gridWidth": 0.6, "ticks": false, "labelFontSize": 4, "labelColor": "#444", "labelPadding": 2, "labelFlush": false, "labelOverlap": false, "domain": false, "title": "Number of Features", "titleFontSize": 4, "titleFontWeight": "normal", "titleColor": "#444", "titlePadding": 9}}
                  }
                }
              ]
            }
          ]
        }
      ]
    }
  ]
}
